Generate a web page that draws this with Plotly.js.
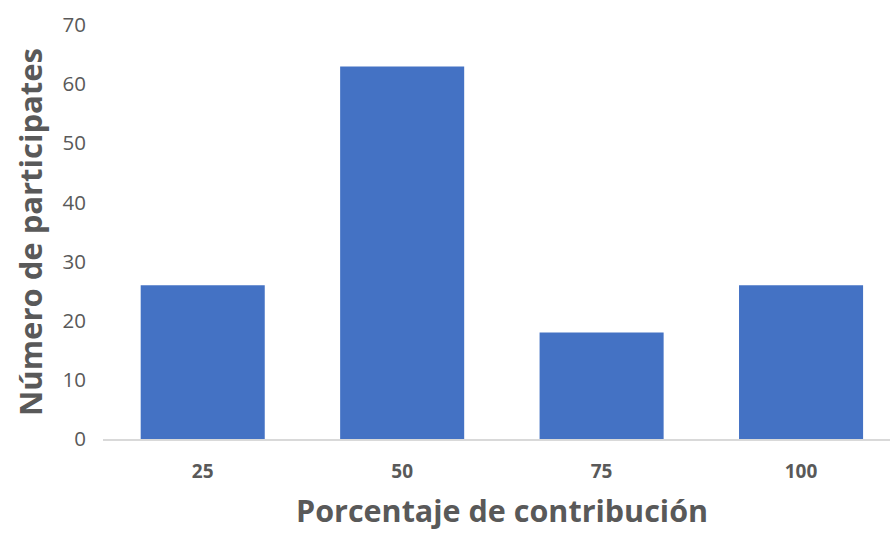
<!DOCTYPE html>
<html>
<head>
<meta charset="utf-8">
<script src="https://cdn.plot.ly/plotly-3.0.1.min.js"></script>
<style>html,body{margin:0;padding:0;overflow:hidden;background:#fff}</style>
</head>
<body>
<div id="chart" style="width:890px;height:534px"></div>
<script>
const categories = ["25", "50", "75", "100"];
const participantes = [26, 63, 18, 26];
const yTickValues = [0, 10, 20, 30, 40, 50, 60, 70];
const xTitle = "Porcentaje de contribución";
const yTitle = "Número de participates";

const textColor = "#595959";
const trace = {
  type: "bar",
  x: categories,
  y: participantes,
  marker: { color: "#4472C4" },
  hoverinfo: "x+y"
};

const layout = {
  width: 890,
  height: 534,
  margin: { l: 103, r: 0, t: 25, b: 95 },
  paper_bgcolor: "#ffffff",
  plot_bgcolor: "#ffffff",
  bargap: 0.378,
  showlegend: false,
  font: { family: "Open Sans, sans-serif", color: textColor },
  xaxis: {
    type: "category",
    range: [-0.5, 3.446],
    showgrid: false,
    showline: true,
    linecolor: "#D9D9D9",
    linewidth: 2,
    ticks: "",
    tickfont: { family: "Open Sans, sans-serif", size: 19, color: textColor, weight: "bold" },
    ticklabelstandoff: 14
  },
  yaxis: {
    range: [0, 70],
    tickvals: yTickValues,
    showgrid: false,
    zeroline: false,
    showline: false,
    ticks: "",
    tickfont: { family: "Open Sans, sans-serif", size: 20.5, color: textColor },
    ticklabelstandoff: 16,
    title: {
      text: yTitle,
      font: { family: "Open Sans, sans-serif", size: 31, color: textColor, weight: "bold" },
      standoff: 10
    }
  },
  annotations: [{
    text: xTitle,
    xref: "paper", yref: "paper",
    x: 0.507, y: -0.225,
    xanchor: "center", yanchor: "bottom",
    showarrow: false,
    borderpad: 0,
    font: { family: "Open Sans, sans-serif", size: 30.5, color: textColor, weight: "bold" }
  }]
};

Plotly.newPlot("chart", [trace], layout, { displayModeBar: false, staticPlot: true });
</script>
</body>
</html>
